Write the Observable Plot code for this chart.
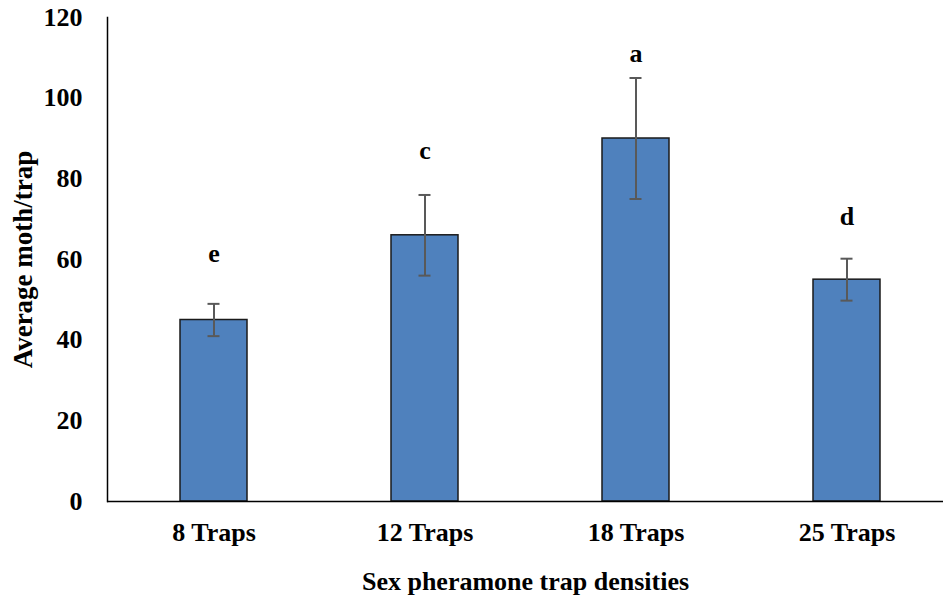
<!DOCTYPE html>
<html>
<head>
<meta charset="utf-8">
<script src="https://cdn.jsdelivr.net/npm/d3@7"></script>
<script src="https://cdn.jsdelivr.net/npm/@observablehq/plot@0.6"></script>
<style>
  html, body { margin: 0; padding: 0; background: white; }
</style>
</head>
<body>
<div id="chart"></div>
<script>
const categories = ["8 Traps", "12 Traps", "18 Traps", "25 Traps"];
const means = [45, 66, 90, 55];
const errors = [4, 10, 15, 5.2];
const letters = ["e", "c", "a", "d"];
const letterValues = [61.5, 87, 111, 70.5];
const yTicks = [0, 20, 40, 60, 80, 100, 120];
const xTitle = "Sex pheramone trap densities";
const yTitle = "Average moth/trap";

const data = categories.map((c, i) => ({
  cat: c, mean: means[i], err: errors[i], letter: letters[i], ly: letterValues[i]
}));

const font = "'Liberation Serif', 'Times New Roman', serif";
const fs = 26;

const chart = Plot.plot({
  width: 943,
  height: 603,
  marginTop: 17,
  marginBottom: 102,
  marginLeft: 107,
  marginRight: 0,
  style: { fontFamily: font, fontWeight: "bold", fontSize: fs + "px", background: "white", color: "black" },
  x: { domain: categories, range: [107, 953], paddingInner: 0.683, paddingOuter: 0.3415, label: null },
  y: { domain: [0, 120], label: null },
  marks: [
    Plot.barY(data, { x: "cat", y: "mean", fill: "#4F81BD", stroke: "#1a1a1a", strokeWidth: 1.5 }),
    Plot.ruleX(data, { x: "cat", y1: d => d.mean - d.err, y2: d => d.mean + d.err, stroke: "#595959", strokeWidth: 2 }),
    Plot.tickY(data, { x: "cat", y: d => d.mean - d.err, stroke: "#595959", strokeWidth: 2, insetLeft: 27.5, insetRight: 27.5 }),
    Plot.tickY(data, { x: "cat", y: d => d.mean + d.err, stroke: "#595959", strokeWidth: 2, insetLeft: 27.5, insetRight: 27.5 }),
    Plot.text(data, { x: "cat", y: "ly", text: "letter", fontSize: fs, fontWeight: "bold", fill: "black" }),
    Plot.axisY({ ticks: yTicks, tickSize: 0, tickPadding: 25, label: null, fontSize: fs, fontWeight: "bold" }),
    Plot.axisX({ tickSize: 0, tickPadding: 21, label: null, fontSize: fs, fontWeight: "bold" }),
    Plot.ruleY([0], { stroke: "black", strokeWidth: 1.5 }),
    Plot.frame({ anchor: "left", stroke: "black", strokeWidth: 1.5 }),
    Plot.text([yTitle], { frameAnchor: "left", textAnchor: "middle", dx: -84, rotate: -90, fontSize: 27, fontWeight: "bold", fill: "black" }),
    Plot.text([xTitle], { frameAnchor: "bottom", dy: 88, fontSize: fs, fontWeight: "bold", fill: "black" })
  ]
});
document.getElementById("chart").appendChild(chart);
</script>
</body>
</html>
